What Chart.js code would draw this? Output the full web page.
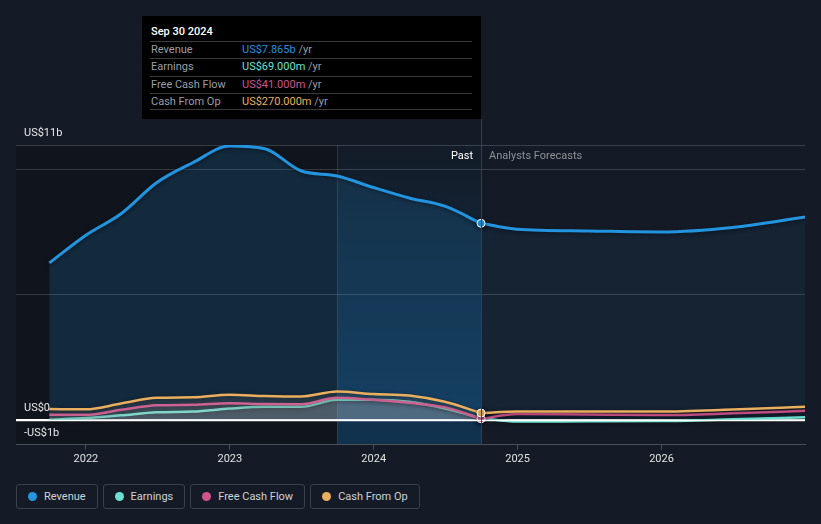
<!DOCTYPE html>
<html>
<head>
<meta charset="utf-8">
<script src="https://cdn.jsdelivr.net/npm/chart.js@4.4.1/dist/chart.umd.min.js"></script>
<style>
  html, body { margin: 0; padding: 0; background: #151b26; }
  body { width: 821px; height: 524px; position: relative; overflow: hidden; font-family: Roboto, "Noto Sans", sans-serif; }
  #wrap { position: absolute; left: 0; top: 0; width: 821px; height: 469px; }
  #tip { position: absolute; left: 142px; top: 16px; width: 339px; height: 103px; background: #000; font-size: 11px; }
  #tip .title { position: absolute; left: 9px; top: 9px; color: #fff; font-weight: 500; font-size: 11px; }
  #tip .row { position: absolute; left: 8px; width: 322px; height: 17px; border-top: 1px solid #3a3a3a; line-height: 16px; }
  #tip .row .lab { position: absolute; left: 1px; color: #9a9ea6; }
  #tip .row .val { position: absolute; left: 92px; }
  #tip .row .unit { color: #9a9ea6; }
  #tip .last { position: absolute; left: 8px; width: 322px; top: 93px; border-top: 1px solid #3a3a3a; }
  #legend { position: absolute; left: 16px; top: 484px; display: flex; gap: 5px; }
  #legend .item { height: 23px; border: 1px solid #3b414b; border-radius: 3px; display: flex; align-items: center; padding: 0 11px 0 11px; color: #cfd2d6; font-size: 11px; }
  #legend .dot { width: 9px; height: 9px; border-radius: 50%; margin-right: 7px; }
</style>
</head>
<body>
<div id="wrap"><canvas id="chart"></canvas></div>
<div id="tip"></div>
<div id="legend"></div>
<script>
// quarterly reported values (US$ billions)
var pastDates = ["2021-09-30", "2021-12-31", "2022-03-31", "2022-06-30", "2022-09-30", "2022-12-31", "2023-03-31", "2023-06-30", "2023-09-30", "2023-12-31", "2024-03-31", "2024-06-30", "2024-09-30"];
var revenuePast = [6.28, 7.38, 8.25, 9.5, 10.3, 10.96, 10.85, 9.97, 9.76, 9.3, 8.88, 8.55, 7.865];
var earningsPast = [0.0, 0.07, 0.18, 0.3, 0.33, 0.45, 0.52, 0.52, 0.8, 0.8, 0.72, 0.45, 0.069];
var fcfPast = [0.2, 0.2, 0.4, 0.58, 0.6, 0.66, 0.63, 0.62, 0.88, 0.8, 0.68, 0.5, 0.041];
var cfoPast = [0.43, 0.42, 0.65, 0.88, 0.9, 1.0, 0.95, 0.93, 1.13, 1.03, 0.97, 0.72, 0.27];

// analyst forecasts
var forecastDates = ["2024-09-30", "2024-12-31", "2025-06-30", "2025-12-31", "2026-06-30", "2026-12-31"];
var revenueFc = [7.865, 7.63, 7.56, 7.52, 7.7, 8.12];
var earningsFc = [0.069, -0.07, -0.06, -0.05, 0.02, 0.1];
var fcfFc = [0.041, 0.23, 0.21, 0.19, 0.26, 0.36];
var cfoFc = [0.27, 0.33, 0.33, 0.33, 0.41, 0.52];

var yearTicks = [2022, 2023, 2024, 2025, 2026];
var yLabels = [[11, "US$11b"], [0, "US$0"], [-1, "-US$1b"]];
var highlightStart = "2023-09-30";

var names = ["Revenue", "Earnings", "Free Cash Flow", "Cash From Op"];
var colors = ["#2394df", "#6ce0cf", "#d0548c", "#eaaf5e"];

function toYear(s) {
  var d = new Date(s + "T00:00:00Z");
  var y = d.getUTCFullYear();
  var start = Date.UTC(y, 0, 1), end = Date.UTC(y + 1, 0, 1);
  return y + (d.getTime() - start) / (end - start);
}
function pts(dates, vals) {
  return dates.map(function (d, i) { return { x: toYear(d), y: vals[i] }; });
}
function fmt(v) {
  return Math.abs(v) >= 1 ? "US$" + v.toFixed(3) + "b" : "US$" + (v * 1000).toFixed(3) + "m";
}

var nowX = toYear(pastDates[pastDates.length - 1]);
var lastIdx = pastDates.length - 1;

function markerRadius(n) {
  return function (ctx) { return ctx.dataIndex === n ? 4 : 0; };
}

var datasets = [];
var pastSeries = [revenuePast, earningsPast, fcfPast, cfoPast];
var fcSeries = [revenueFc, earningsFc, fcfFc, cfoFc];
for (var s = 3; s >= 0; s--) {
  datasets.push({
    label: names[s] + " past",
    data: pts(pastDates, pastSeries[s]),
    borderColor: colors[s],
    borderWidth: s === 0 ? 3 : 2.5,
    fill: "origin",
    backgroundColor: s === 0 ? "rgba(35,148,223,0.16)" : "rgba(190,190,190,0.13)",
    pointRadius: markerRadius(lastIdx),
    pointBackgroundColor: colors[s],
    pointBorderColor: "#ffffff",
    pointBorderWidth: 1,
    cubicInterpolationMode: "monotone"
  });
  datasets.push({
    label: names[s] + " forecast",
    data: pts(forecastDates, fcSeries[s]),
    borderColor: colors[s],
    borderWidth: s === 0 ? 3 : 2.5,
    fill: s === 0 ? "origin" : false,
    backgroundColor: "rgba(35,148,223,0.07)",
    pointRadius: 0,
    cubicInterpolationMode: "monotone"
  });
}

var decor = {
  id: "decor",
  beforeDraw: function (chart) {
    var c = chart.ctx, a = chart.chartArea, x = chart.scales.x;
    var hx = x.getPixelForValue(toYear(highlightStart));
    var nx = x.getPixelForValue(nowX);
    c.save();
    c.fillStyle = "#10151d";
    c.fillRect(a.left, a.top, hx - a.left, a.bottom - a.top);
    var g = c.createLinearGradient(0, a.top, 0, a.bottom);
    g.addColorStop(0, "#131c28");
    g.addColorStop(1, "#11324f");
    c.fillStyle = g;
    c.fillRect(hx, a.top, nx - hx, a.bottom - a.top);
    c.strokeStyle = "rgba(60,110,150,0.35)";
    c.lineWidth = 1;
    c.beginPath();
    c.moveTo(Math.round(hx) + 0.5, a.top);
    c.lineTo(Math.round(hx) + 0.5, a.bottom);
    c.stroke();
    c.restore();
  },
  beforeDatasetDraw: function (chart, args) {
    var c = chart.ctx;
    c.save();
    c.shadowColor = "rgba(0,0,0,0.45)";
    c.shadowBlur = 4;
    c.shadowOffsetY = 1;
  },
  afterDatasetDraw: function (chart) {
    chart.ctx.restore();
  },
  afterDatasetsDraw: function (chart) {
    var c = chart.ctx, a = chart.chartArea, y = chart.scales.y;
    var zy = Math.round(y.getPixelForValue(0)) + 0.5;
    c.save();
    c.strokeStyle = "#ffffff";
    c.lineWidth = 1.5;
    c.beginPath();
    c.moveTo(a.left, zy);
    c.lineTo(a.right, zy);
    c.stroke();
    c.restore();
  },
  afterDraw: function (chart) {
    var c = chart.ctx, a = chart.chartArea, x = chart.scales.x, y = chart.scales.y;
    var nx = x.getPixelForValue(nowX);
    c.save();
    c.strokeStyle = "#1f4868";
    c.lineWidth = 1;
    c.beginPath();
    c.moveTo(nx + 0.5, 119);
    c.lineTo(nx + 0.5, a.bottom);
    c.stroke();
    c.font = "11px Roboto";
    c.textBaseline = "middle";
    c.fillStyle = "#e6e6e6";
    yLabels.forEach(function (l) {
      c.fillText(l[1], 24, y.getPixelForValue(l[0]) - 12);
    });
    c.textAlign = "right";
    c.fillStyle = "#ffffff";
    c.fillText("Past", nx - 8, 156);
    c.textAlign = "left";
    c.fillStyle = "#8c9098";
    c.fillText("Analysts Forecasts", nx + 8, 156);
    c.restore();
  }
};

new Chart(document.getElementById("chart"), {
  type: "line",
  data: { datasets: datasets },
  plugins: [decor],
  options: {
    responsive: true,
    maintainAspectRatio: false,
    animation: false,
    layout: { padding: { left: 16, right: 16, top: 145, bottom: 0 } },
    plugins: { legend: { display: false }, tooltip: { enabled: false } },
    scales: {
      x: {
        type: "linear",
        min: 2021.514,
        max: toYear("2026-12-31"),
        afterBuildTicks: function (axis) { axis.ticks = yearTicks.map(function (v) { return { value: v }; }); },
        ticks: { color: "#e2e2e2", font: { family: "Roboto", size: 11 }, padding: 3, callback: function (v) { return String(v); } },
        grid: { drawOnChartArea: false, drawTicks: true, tickLength: 5, color: "#4a4f58" },
        border: { color: "#4a4f58" }
      },
      y: {
        min: -1,
        max: 11,
        afterBuildTicks: function (axis) { axis.ticks = [-1, 0, 5, 10, 11].map(function (v) { return { value: v }; }); },
        ticks: { display: false },
        grid: {
          drawTicks: false,
          color: function (ctx) { return ctx.tick && ctx.tick.value === 0 ? "#ffffff" : "rgba(255,255,255,0.16)"; },
          lineWidth: function (ctx) { return ctx.tick && ctx.tick.value === 0 ? 1.5 : 1; }
        },
        border: { display: false }
      }
    }
  }
});

// persistent hover box
var tip = document.getElementById("tip");
var d = new Date(pastDates[lastIdx] + "T00:00:00Z");
var months = ["Jan", "Feb", "Mar", "Apr", "May", "Jun", "Jul", "Aug", "Sep", "Oct", "Nov", "Dec"];
var html = '<div class="title">' + months[d.getUTCMonth()] + " " + d.getUTCDate() + " " + d.getUTCFullYear() + "</div>";
for (var i = 0; i < 4; i++) {
  html += '<div class="row" style="top:' + (25 + i * 17.3) + 'px"><span class="lab">' + names[i] + '</span><span class="val"><span style="color:' + colors[i] + '">' + fmt(pastSeries[i][lastIdx]) + '</span> <span class="unit">/yr</span></span></div>';
}
html += '<div class="last"></div>';
tip.innerHTML = html;

var legend = document.getElementById("legend");
names.forEach(function (n, i) {
  var el = document.createElement("div");
  el.className = "item";
  el.innerHTML = '<span class="dot" style="background:' + colors[i] + '"></span>' + n;
  legend.appendChild(el);
});
</script>
</body>
</html>
